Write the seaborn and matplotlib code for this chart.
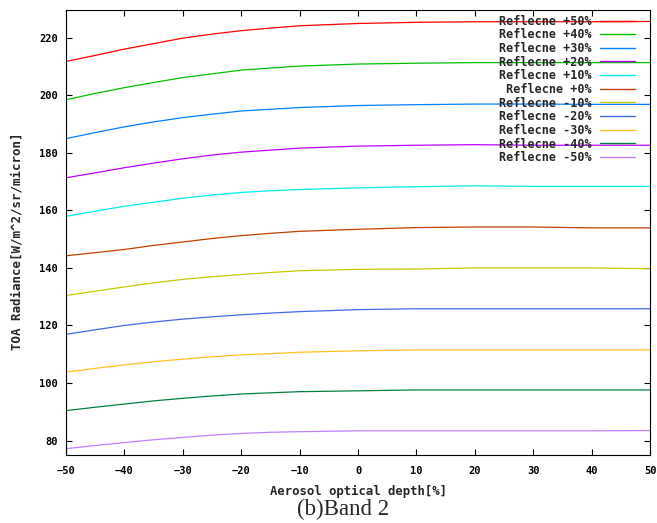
import numpy as np
import pandas as pd
import matplotlib
matplotlib.use("Agg")
import matplotlib.pyplot as plt
import seaborn as sns

# aerosol optical depth change (x axis)
aod = [-50, -45, -40, -35, -30, -25, -20, -15, -10, 0, 10, 20, 30, 40, 50]

# TOA radiance for each reflectance change
refl_p50 = [211.7, 213.8, 216.0, 217.9, 219.8, 221.2, 222.4, 223.3, 224.1, 224.9, 225.3, 225.5, 225.5, 225.5, 225.6]
refl_p40 = [198.4, 200.6, 202.6, 204.4, 206.1, 207.4, 208.7, 209.4, 210.1, 210.8, 211.1, 211.3, 211.3, 211.3, 211.3]
refl_p30 = [184.9, 187.0, 189.0, 190.7, 192.2, 193.4, 194.5, 195.1, 195.7, 196.4, 196.7, 196.9, 196.9, 196.8, 196.8]
refl_p20 = [171.3, 173.0, 174.8, 176.4, 177.9, 179.2, 180.2, 180.9, 181.6, 182.3, 182.6, 182.8, 182.6, 182.6, 182.6]
refl_p10 = [157.9, 159.7, 161.4, 162.8, 164.2, 165.3, 166.2, 166.8, 167.2, 167.8, 168.2, 168.5, 168.3, 168.3, 168.3]
refl_0 = [144.2, 145.3, 146.4, 147.8, 149.0, 150.2, 151.2, 152.0, 152.7, 153.4, 154.0, 154.2, 154.2, 153.9, 153.9]
refl_m10 = [130.4, 131.9, 133.4, 134.8, 136.0, 136.9, 137.7, 138.4, 139.0, 139.5, 139.6, 140.0, 140.0, 140.0, 139.7]
refl_m20 = [116.9, 118.5, 120.0, 121.2, 122.2, 123.0, 123.7, 124.3, 124.8, 125.5, 125.8, 125.8, 125.8, 125.8, 125.8]
refl_m30 = [103.8, 105.1, 106.3, 107.4, 108.3, 109.1, 109.8, 110.2, 110.7, 111.2, 111.5, 111.5, 111.5, 111.5, 111.5]
refl_m40 = [90.4, 91.6, 92.7, 93.8, 94.7, 95.5, 96.2, 96.6, 97.0, 97.3, 97.6, 97.6, 97.6, 97.6, 97.6]
refl_m50 = [77.2, 78.3, 79.3, 80.3, 81.1, 81.9, 82.5, 82.9, 83.1, 83.4, 83.4, 83.4, 83.4, 83.4, 83.5]

labels = ["Reflecne +50%", "Reflecne +40%", "Reflecne +30%", "Reflecne +20%",
          "Reflecne +10%", " Reflecne +0%", "Reflecne -10%", "Reflecne -20%",
          "Reflecne -30%", "Reflecne -40%", "Reflecne -50%"]
series = [refl_p50, refl_p40, refl_p30, refl_p20, refl_p10, refl_0,
          refl_m10, refl_m20, refl_m30, refl_m40, refl_m50]
colors = ["#ff0000", "#00c000", "#0080ff", "#c000ff", "#00eeee", "#c04000",
          "#c8c800", "#4169e1", "#ffc020", "#008040", "#c080ff"]

rows = []
for lab, vals in zip(labels, series):
    for x, y in zip(aod, vals):
        rows.append({"aod": x, "radiance": y, "case": lab})
df = pd.DataFrame(rows)

sns.set_style("ticks")
mono = ["DejaVu Sans Mono"]

fig = plt.figure(figsize=(6.57, 5.23), dpi=100)
ax = fig.add_axes([0.1005, 0.130, 0.889, 0.851])

sns.lineplot(data=df, x="aod", y="radiance", hue="case", hue_order=labels,
             palette=colors, linewidth=0.9, ax=ax, legend=True)

ax.set_xlim(-50, 50)
ax.set_ylim(75.0, 229.6)
ax.set_xticks(range(-50, 51, 10))
ax.set_yticks(range(80, 221, 20))
ax.tick_params(direction="in", top=True, right=True, length=4, width=0.8,
               colors="black")
ax.tick_params(axis="x", pad=8)
ax.tick_params(axis="y", pad=6)
for t in ax.get_xticklabels() + ax.get_yticklabels():
    t.set_family(mono)
    t.set_fontweight("bold")
    t.set_fontsize(7.5)
for s in ax.spines.values():
    s.set_color("black")
    s.set_linewidth(0.8)

ax.set_xlabel("Aerosol optical depth[%]", family=mono, fontweight="bold",
              fontsize=8.8)
ax.xaxis.set_label_coords(0.5, -0.068)
ax.set_ylabel("TOA Radiance[W/m^2/sr/micron]", family=mono, fontweight="bold",
              fontsize=9.0)
ax.yaxis.set_label_coords(-0.072, 0.48)

leg = ax.legend(loc="upper right", bbox_to_anchor=(0.983, 1.0), frameon=False,
                markerfirst=False, handlelength=3.0, handletextpad=0.68,
                labelspacing=0.055, borderaxespad=0.0,
                prop={"family": mono, "weight": "bold", "size": 8.5})
for line in leg.get_lines():
    line.set_linewidth(1.0)

fig.text(0.522, 0.015, "(b)Band 2", family="Liberation Serif", fontsize=16.5,
         ha="center", va="baseline")

fig.savefig("out.png", dpi=100)
